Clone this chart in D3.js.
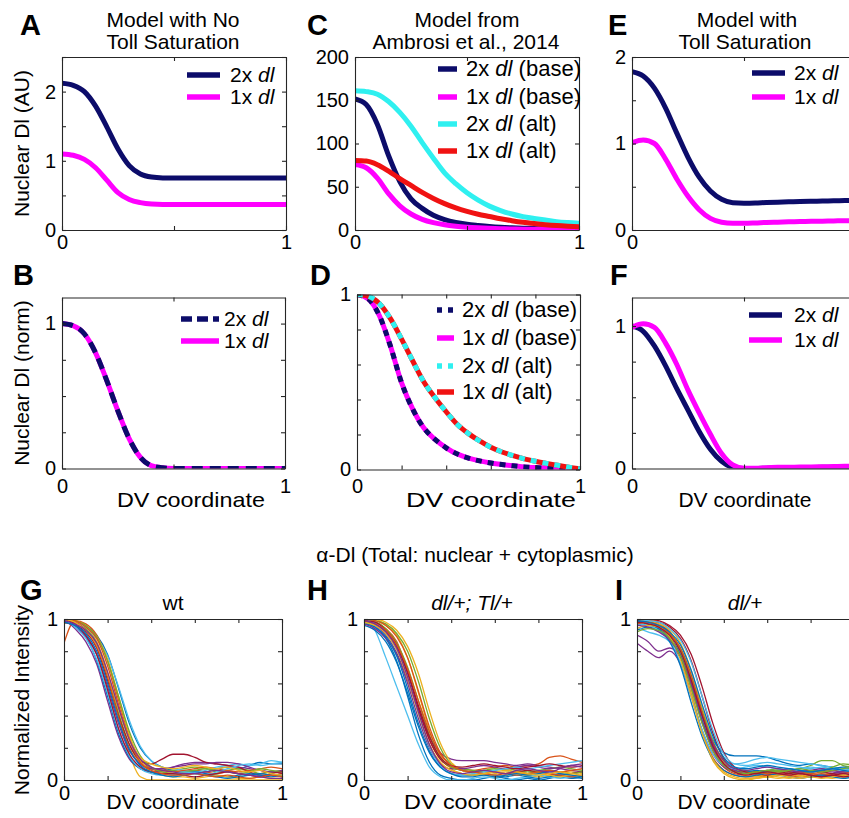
<!DOCTYPE html>
<html>
<head>
<meta charset="utf-8">
<script src="https://cdn.jsdelivr.net/npm/d3@7"></script>
<style>
  body { margin: 0; background: #fff; }
  svg { display: block; }
</style>
</head>
<body>
<svg id="fig" width="849" height="818"></svg>
<script>
// ---------- data ----------
const xs = [0, 0.05, 0.1, 0.15, 0.2, 0.25, 0.3, 0.35, 0.4, 0.45, 0.5,
            0.55, 0.6, 0.65, 0.7, 0.75, 0.8, 0.85, 0.9, 0.95, 1];

// A: model with no Toll saturation (AU)
const noSat2x = [2.12, 2.09, 2.00, 1.79, 1.49, 1.17, 0.93, 0.81, 0.765, 0.752, 0.75,
                 0.75, 0.75, 0.75, 0.75, 0.75, 0.75, 0.75, 0.75, 0.75, 0.75];
const noSat1x = [1.10, 1.08, 1.02, 0.90, 0.72, 0.54, 0.44, 0.395, 0.375, 0.37, 0.37,
                 0.37, 0.37, 0.37, 0.37, 0.37, 0.37, 0.37, 0.37, 0.37, 0.37];
// B: same model, normalized
const noSatNorm2x = [1, 0.985, 0.93, 0.80, 0.61, 0.40, 0.21, 0.08, 0.02, 0.005, 0,
                     0, 0, 0, 0, 0, 0, 0, 0, 0, 0];
const noSatNorm1x = [1, 0.985, 0.93, 0.80, 0.61, 0.40, 0.21, 0.08, 0.02, 0.005, 0,
                     0, 0, 0, 0, 0, 0, 0, 0, 0, 0];

// C: model from Ambrosi et al., 2014
const ambBase2x = [151.5, 145, 122, 86, 56, 36, 25, 17, 12, 8.7, 6.6,
                   5.2, 4, 3.1, 2.5, 2.1, 1.7, 1.4, 1.2, 1, 0.8];
const ambBase1x = [75.7, 72, 60, 42, 28, 18.5, 12.3, 8.5, 6, 4.4, 3.3,
                   2.5, 1.9, 1.5, 1.2, 1, 0.8, 0.7, 0.6, 0.5, 0.4];
const ambAlt2x = [161, 160, 157, 148.5, 136, 120, 101, 83, 66, 53.5, 43,
                  34.5, 27.6, 22.5, 18.5, 15.5, 13.4, 11.5, 9.7, 8.6, 7.8];
const ambAlt1x = [80.4, 79.7, 75.5, 68, 59.5, 51.5, 43.5, 36.5, 30.5, 25.5, 21.5,
                  18.2, 15.6, 13, 10.8, 8.9, 7.4, 6.1, 5.1, 4.4, 3.9];
// D: Ambrosi model, normalized
const ambNormBase2x = [1, 0.975, 0.88, 0.705, 0.495, 0.345, 0.237, 0.172, 0.124, 0.088, 0.065,
                       0.049, 0.037, 0.028, 0.021, 0.015, 0.011, 0.008, 0.006, 0.003, 0.001];
const ambNormBase1x = [1, 0.975, 0.88, 0.705, 0.495, 0.345, 0.237, 0.172, 0.124, 0.088, 0.065,
                       0.049, 0.037, 0.028, 0.021, 0.015, 0.011, 0.008, 0.006, 0.003, 0.001];
const ambNormAlt2x = [1, 0.99, 0.949, 0.862, 0.745, 0.62, 0.50, 0.41, 0.33, 0.257, 0.205,
                      0.163, 0.127, 0.1, 0.079, 0.061, 0.047, 0.035, 0.024, 0.013, 0.004];
const ambNormAlt1x = [1, 0.99, 0.949, 0.862, 0.745, 0.62, 0.50, 0.41, 0.33, 0.257, 0.205,
                      0.163, 0.127, 0.1, 0.079, 0.061, 0.047, 0.035, 0.024, 0.013, 0.004];

// E: model with Toll saturation (AU)
const sat2x = [1.83, 1.78, 1.64, 1.41, 1.12, 0.84, 0.61, 0.45, 0.355, 0.315, 0.31,
               0.312, 0.318, 0.322, 0.326, 0.33, 0.332, 0.335, 0.337, 0.34, 0.342];
const sat1x = [1.01, 1.04, 1.00, 0.82, 0.59, 0.39, 0.235, 0.135, 0.09, 0.078, 0.078,
               0.082, 0.088, 0.091, 0.094, 0.097, 0.1, 0.102, 0.105, 0.107, 0.109];
// F: Toll saturation model, normalized
const satNorm2x = [1, 0.963, 0.86, 0.72, 0.56, 0.41, 0.26, 0.135, 0.05, 0.008, 0,
                   0, 0.002, 0.004, 0.005, 0.006, 0.007, 0.008, 0.009, 0.011, 0.012];
const satNorm1x = [0.99, 1.015, 0.99, 0.88, 0.73, 0.55, 0.39, 0.24, 0.105, 0.025, 0.002,
                   0.002, 0.006, 0.008, 0.009, 0.01, 0.011, 0.012, 0.014, 0.015, 0.016];

// G-I: measured total Dl profiles, one row per embryo
const wtProfiles = [
  [1.00,0.99,0.96,0.90,0.78,0.57,0.35,0.20,0.12,0.08,0.06,0.05,0.06,0.05,0.07,0.08,0.07,0.09,0.11,0.10,0.10],
  [0.85,0.99,0.97,0.90,0.74,0.50,0.27,0.13,0.07,0.05,0.04,0.05,0.06,0.05,0.04,0.05,0.04,0.03,0.04,0.05,0.04],
  [0.97,0.99,0.95,0.86,0.67,0.40,0.16,0.02,0.00,0.00,0.00,0.00,0.00,0.00,0.00,0.00,0.00,0.00,0.00,0.00,0.00],
  [1.00,0.94,0.86,0.72,0.49,0.27,0.13,0.07,0.05,0.06,0.08,0.10,0.11,0.11,0.10,0.09,0.08,0.07,0.06,0.05,0.05],
  [1.00,0.98,0.94,0.85,0.66,0.42,0.22,0.11,0.07,0.06,0.06,0.07,0.08,0.07,0.05,0.06,0.07,0.06,0.04,0.05,0.06],
  [0.99,0.98,0.95,0.88,0.77,0.58,0.37,0.21,0.12,0.08,0.07,0.06,0.05,0.06,0.08,0.09,0.10,0.09,0.10,0.12,0.11],
  [0.98,0.96,0.92,0.82,0.62,0.40,0.22,0.12,0.10,0.13,0.16,0.16,0.14,0.11,0.10,0.09,0.08,0.05,0.03,0.03,0.04],
  [1.00,0.96,0.89,0.74,0.52,0.29,0.14,0.07,0.05,0.04,0.03,0.04,0.05,0.04,0.03,0.02,0.03,0.04,0.03,0.02,0.03],
  [0.99,0.98,0.93,0.83,0.64,0.39,0.20,0.10,0.07,0.06,0.05,0.06,0.07,0.08,0.07,0.06,0.05,0.06,0.07,0.08,0.07],
  [1.00,0.99,0.96,0.89,0.75,0.52,0.28,0.12,0.05,0.03,0.02,0.02,0.01,0.02,0.03,0.02,0.01,0.01,0.02,0.01,0.01],
  [0.99,0.95,0.89,0.78,0.58,0.35,0.18,0.10,0.07,0.07,0.08,0.09,0.10,0.10,0.11,0.11,0.10,0.08,0.06,0.05,0.06],
  [1.00,0.99,0.96,0.89,0.74,0.52,0.30,0.15,0.08,0.05,0.04,0.05,0.06,0.07,0.06,0.05,0.04,0.05,0.07,0.06,0.05],
  [1.00,0.95,0.88,0.75,0.54,0.31,0.15,0.07,0.04,0.03,0.04,0.05,0.04,0.03,0.05,0.07,0.09,0.10,0.09,0.10,0.11],
  [1.00,0.97,0.90,0.78,0.56,0.32,0.16,0.08,0.05,0.04,0.04,0.03,0.02,0.03,0.04,0.05,0.04,0.03,0.02,0.04,0.05],
  [0.98,0.96,0.91,0.80,0.60,0.37,0.19,0.09,0.05,0.03,0.02,0.03,0.04,0.03,0.02,0.01,0.02,0.03,0.04,0.03,0.02],
  [1.00,0.99,0.95,0.88,0.71,0.47,0.25,0.11,0.06,0.04,0.03,0.03,0.04,0.03,0.02,0.03,0.02,0.01,0.02,0.03,0.02],
  [1.00,0.98,0.93,0.84,0.66,0.44,0.25,0.14,0.10,0.08,0.07,0.08,0.09,0.08,0.07,0.08,0.06,0.05,0.06,0.04,0.03],
  [0.99,0.97,0.93,0.85,0.67,0.45,0.25,0.13,0.08,0.06,0.05,0.04,0.04,0.05,0.06,0.05,0.04,0.03,0.02,0.01,0.01]
];
const dlTlProfiles = [
  [0.97,0.95,0.88,0.74,0.52,0.28,0.11,0.03,0.01,0.00,0.00,0.01,0.02,0.01,0.00,0.01,0.00,0.01,0.02,0.01,0.02],
  [1.00,0.98,0.94,0.86,0.68,0.45,0.25,0.13,0.08,0.07,0.06,0.07,0.08,0.09,0.08,0.09,0.10,0.14,0.15,0.13,0.11],
  [1.00,1.00,0.96,0.90,0.76,0.54,0.31,0.15,0.07,0.04,0.03,0.03,0.02,0.03,0.04,0.03,0.02,0.03,0.04,0.05,0.04],
  [0.98,0.96,0.90,0.79,0.62,0.43,0.27,0.17,0.13,0.12,0.12,0.12,0.11,0.10,0.09,0.10,0.09,0.08,0.07,0.06,0.05],
  [1.00,0.99,0.97,0.91,0.80,0.61,0.38,0.20,0.10,0.07,0.06,0.05,0.06,0.07,0.06,0.05,0.06,0.07,0.08,0.07,0.06],
  [1.00,0.93,0.76,0.58,0.40,0.22,0.08,0.02,0.00,0.00,0.01,0.02,0.01,0.00,0.01,0.02,0.03,0.02,0.01,0.02,0.03],
  [0.99,0.97,0.92,0.83,0.66,0.44,0.25,0.13,0.08,0.06,0.05,0.06,0.05,0.04,0.05,0.06,0.05,0.04,0.03,0.04,0.05],
  [0.96,0.93,0.86,0.73,0.54,0.33,0.17,0.08,0.04,0.03,0.03,0.04,0.03,0.02,0.03,0.02,0.01,0.02,0.03,0.02,0.01],
  [1.00,0.99,0.96,0.89,0.76,0.55,0.33,0.17,0.09,0.06,0.05,0.04,0.05,0.04,0.03,0.04,0.05,0.04,0.03,0.02,0.03],
  [1.00,1.00,0.98,0.93,0.83,0.66,0.43,0.23,0.11,0.06,0.04,0.03,0.04,0.05,0.04,0.03,0.04,0.03,0.02,0.03,0.02],
  [0.97,0.94,0.88,0.78,0.60,0.38,0.20,0.10,0.07,0.07,0.08,0.09,0.08,0.07,0.08,0.09,0.08,0.07,0.08,0.09,0.10],
  [0.98,0.98,0.94,0.85,0.70,0.49,0.28,0.14,0.08,0.06,0.05,0.06,0.07,0.06,0.05,0.04,0.05,0.06,0.05,0.04,0.05],
  [1.00,0.97,0.91,0.81,0.64,0.41,0.21,0.09,0.04,0.03,0.04,0.05,0.06,0.07,0.08,0.07,0.08,0.09,0.10,0.11,0.12],
  [0.99,0.98,0.93,0.84,0.67,0.46,0.27,0.14,0.09,0.08,0.09,0.10,0.09,0.08,0.07,0.08,0.09,0.10,0.09,0.08,0.09],
  [0.98,0.95,0.89,0.77,0.57,0.35,0.18,0.08,0.04,0.02,0.02,0.03,0.02,0.03,0.04,0.03,0.04,0.05,0.04,0.03,0.02],
  [0.99,0.97,0.93,0.84,0.69,0.49,0.30,0.16,0.09,0.06,0.05,0.04,0.03,0.04,0.05,0.04,0.05,0.06,0.05,0.06,0.07],
  [0.98,0.96,0.91,0.81,0.63,0.41,0.22,0.11,0.06,0.04,0.03,0.04,0.05,0.06,0.05,0.04,0.03,0.04,0.05,0.04,0.03],
  [0.99,0.97,0.92,0.82,0.64,0.42,0.22,0.10,0.05,0.04,0.05,0.06,0.05,0.04,0.06,0.07,0.06,0.05,0.07,0.09,0.08]
];
const dlProfiles = [
  [0.93,0.95,0.93,0.88,0.78,0.60,0.40,0.25,0.17,0.15,0.15,0.15,0.14,0.12,0.10,0.09,0.10,0.09,0.08,0.07,0.07],
  [0.98,0.99,0.97,0.92,0.81,0.61,0.37,0.18,0.08,0.04,0.03,0.03,0.02,0.03,0.04,0.03,0.02,0.03,0.04,0.05,0.04],
  [1.00,1.00,0.98,0.93,0.80,0.56,0.30,0.12,0.04,0.01,0.00,0.01,0.02,0.01,0.02,0.03,0.02,0.03,0.04,0.03,0.02],
  [0.85,0.80,0.76,0.80,0.72,0.52,0.31,0.16,0.08,0.05,0.04,0.05,0.04,0.03,0.04,0.05,0.04,0.03,0.04,0.05,0.04],
  [1.00,0.99,0.96,0.91,0.81,0.63,0.41,0.22,0.11,0.07,0.06,0.05,0.06,0.07,0.06,0.07,0.09,0.12,0.12,0.09,0.08],
  [0.95,0.92,0.90,0.86,0.76,0.58,0.38,0.22,0.13,0.10,0.11,0.13,0.14,0.13,0.12,0.11,0.10,0.09,0.08,0.07,0.06],
  [1.00,0.99,0.98,0.95,0.88,0.74,0.52,0.29,0.13,0.06,0.04,0.05,0.06,0.05,0.04,0.05,0.06,0.05,0.04,0.03,0.04],
  [0.97,0.96,0.94,0.89,0.78,0.59,0.37,0.20,0.10,0.06,0.05,0.06,0.05,0.06,0.07,0.06,0.05,0.06,0.07,0.08,0.07],
  [0.99,0.98,0.95,0.89,0.76,0.53,0.30,0.14,0.06,0.03,0.02,0.02,0.03,0.04,0.03,0.02,0.03,0.04,0.03,0.02,0.03],
  [1.00,0.99,0.97,0.94,0.85,0.68,0.45,0.24,0.11,0.05,0.03,0.02,0.03,0.02,0.01,0.02,0.03,0.02,0.01,0.02,0.01],
  [0.90,0.86,0.80,0.82,0.76,0.58,0.36,0.19,0.10,0.06,0.05,0.04,0.05,0.06,0.05,0.04,0.05,0.06,0.05,0.04,0.05],
  [0.98,0.97,0.95,0.91,0.82,0.65,0.43,0.24,0.12,0.07,0.05,0.04,0.05,0.06,0.05,0.04,0.05,0.06,0.08,0.10,0.09],
  [0.97,0.96,0.93,0.86,0.73,0.52,0.31,0.16,0.09,0.07,0.08,0.09,0.08,0.07,0.06,0.07,0.08,0.07,0.06,0.07,0.08],
  [1.00,1.00,0.99,0.96,0.90,0.78,0.58,0.35,0.17,0.08,0.05,0.04,0.03,0.04,0.05,0.04,0.03,0.02,0.03,0.04,0.03],
  [0.99,0.97,0.94,0.86,0.71,0.48,0.27,0.13,0.06,0.03,0.02,0.03,0.04,0.03,0.02,0.01,0.02,0.03,0.02,0.01,0.02],
  [0.97,0.98,0.96,0.91,0.82,0.65,0.42,0.22,0.10,0.05,0.04,0.05,0.04,0.05,0.06,0.05,0.04,0.05,0.06,0.05,0.04],
  [0.94,0.96,0.95,0.89,0.75,0.52,0.29,0.13,0.05,0.02,0.01,0.01,0.02,0.03,0.02,0.01,0.02,0.01,0.02,0.03,0.02],
  [0.96,0.95,0.92,0.87,0.77,0.60,0.40,0.23,0.12,0.07,0.06,0.07,0.08,0.07,0.06,0.05,0.06,0.07,0.06,0.05,0.06],
  [0.92,0.94,0.93,0.88,0.77,0.57,0.35,0.18,0.09,0.05,0.04,0.05,0.06,0.05,0.06,0.07,0.06,0.05,0.06,0.07,0.08],
  [1.00,0.99,0.98,0.94,0.87,0.73,0.52,0.31,0.16,0.10,0.09,0.10,0.11,0.10,0.09,0.08,0.07,0.08,0.07,0.06,0.05],
  [0.98,0.97,0.95,0.90,0.80,0.62,0.40,0.21,0.10,0.05,0.03,0.04,0.05,0.04,0.03,0.04,0.03,0.02,0.03,0.02,0.03],
  [0.99,0.98,0.96,0.92,0.84,0.68,0.47,0.27,0.14,0.08,0.07,0.08,0.09,0.08,0.07,0.06,0.05,0.06,0.07,0.06,0.05]
];

// tick values
const xTicksHalf = [0, 0.5, 1];
const xTicksFifth = [0, 0.2, 0.4, 0.6, 0.8, 1];
const xTickLabels = [0, 1];
const yTicksAU = [0, 0.5, 1, 1.5, 2, 2.5];
const yTicksAmb = [0, 50, 100, 150, 200];
const yTicksSat = [0, 0.5, 1, 1.5, 2];
const yTicksQuarter = [0, 0.25, 0.5, 0.75, 1];
const yTicksFifth = [0, 0.2, 0.4, 0.6, 0.8, 1];
const yTickLabels = [0, 1, 2];

// ---------- styling ----------
const FONT = '"Liberation Sans", Arial, Helvetica, sans-serif';
const NAVY = '#0c0c6a', MAGENTA = '#ff00ff', CYAN = '#2ff0f0', RED = '#f01212';
const ORDER = ['#0072BD', '#D95319', '#EDB120', '#7E2F8E', '#77AC30', '#4DBEEE', '#A2142F'];
const AXIS = '#262626';

const svg = d3.select('#fig').attr('font-family', FONT);
const defs = svg.append('defs');

function panel(o) {
  const x = d3.scaleLinear().domain([0, 1]).range([o.l, o.r]);
  const y = d3.scaleLinear().domain(o.yDomain).range([o.b, o.t]);
  const g = svg.append('g');
  const cid = 'clip-' + o.id;
  defs.append('clipPath').attr('id', cid).append('rect')
    .attr('x', o.l).attr('y', o.t).attr('width', o.r - o.l).attr('height', o.b - o.t);
  const plot = g.append('g').attr('clip-path', `url(#${cid})`);
  const ax = g.append('g');
  const fx = d => xTickLabels.includes(d) ? String(d) : '';
  const fy = d => o.yAll || yTickLabels.includes(d) ? String(d) : '';
  ax.append('g').attr('transform', `translate(0,${o.b})`)
    .call(d3.axisBottom(x).tickValues(o.xTicks).tickFormat(fx)
      .tickSizeInner(-4).tickSizeOuter(0).tickPadding(o.xPad));
  ax.append('g').attr('transform', `translate(0,${o.t})`)
    .call(d3.axisTop(x).tickValues(o.xTicks).tickFormat('')
      .tickSizeInner(-4).tickSizeOuter(0));
  ax.append('g').attr('transform', `translate(${o.l},0)`)
    .call(d3.axisLeft(y).tickValues(o.yTicks).tickFormat(fy)
      .tickSizeInner(-4).tickSizeOuter(0).tickPadding(6));
  ax.append('g').attr('transform', `translate(${o.r},0)`)
    .call(d3.axisRight(y).tickValues(o.yTicks).tickFormat('')
      .tickSizeInner(-4).tickSizeOuter(0));
  ax.selectAll('g').attr('font-family', FONT).attr('font-size', 20);
  ax.selectAll('.domain, .tick line').attr('stroke', AXIS).attr('stroke-width', 1.1);
  ax.selectAll('.tick text').attr('fill', '#000');
  return { x, y, plot, ax };
}

function curve(p, vals, color, width, dash) {
  const line = d3.line().x((d, i) => p.x(xs[i])).y(d => p.y(d)).curve(d3.curveMonotoneX);
  const path = p.plot.append('path').datum(vals)
    .attr('d', line).attr('fill', 'none')
    .attr('stroke', color).attr('stroke-width', width);
  if (dash) path.attr('stroke-dasharray', dash);
  return path;
}

function legend(p, items, x1, x2, tx, ys, size) {
  items.forEach((it, i) => {
    const ln = p.ax.append('line').attr('x1', x1).attr('x2', x2)
      .attr('y1', ys[i]).attr('y2', ys[i])
      .attr('stroke', it.color).attr('stroke-width', 5.5);
    if (it.dash) ln.attr('stroke-dasharray', it.dash);
    const t = p.ax.append('text').attr('x', tx).attr('y', ys[i] + size * 0.34)
      .attr('font-size', size).attr('fill', '#000');
    t.append('tspan').text(it.pre);
    t.append('tspan').attr('font-style', 'italic').text('dl');
    if (it.post) t.append('tspan').text(it.post);
  });
}

function text(x, y, s, opts = {}) {
  const t = svg.append('text').attr('x', x).attr('y', y)
    .attr('font-size', opts.size || 21).attr('fill', '#000')
    .attr('text-anchor', opts.anchor || 'middle').text(s);
  if (opts.bold) t.attr('font-weight', 'bold');
  if (opts.italic) t.attr('font-style', 'italic');
  if (opts.rotate) t.attr('transform', `rotate(-90,${x},${y})`);
  if (opts.span) t.attr('textLength', opts.span).attr('lengthAdjust', 'spacingAndGlyphs');
  return t;
}

// ---------- row 1: absolute levels ----------
const pA = panel({ id: 'A', l: 62, r: 286, t: 57, b: 230, yDomain: [0, 2.5],
  xTicks: xTicksHalf, yTicks: yTicksAU, xPad: 5 });
curve(pA, noSat2x, NAVY, 5);
curve(pA, noSat1x, MAGENTA, 5);
legend(pA, [{ color: NAVY, pre: '2x ' }, { color: MAGENTA, pre: '1x ' }], 187, 220, 230, [75, 97], 21);

const pC = panel({ id: 'C', l: 355, r: 579, t: 57, b: 230, yDomain: [0, 200],
  xTicks: xTicksHalf, yTicks: yTicksAmb, xPad: 5, yAll: true });
curve(pC, ambBase2x, NAVY, 5);
curve(pC, ambBase1x, MAGENTA, 5);
curve(pC, ambAlt2x, CYAN, 5);
curve(pC, ambAlt1x, RED, 5);
legend(pC, [
  { color: NAVY, pre: '2x ', post: ' (base)' },
  { color: MAGENTA, pre: '1x ', post: ' (base)' },
  { color: CYAN, pre: '2x ', post: ' (alt)' },
  { color: RED, pre: '1x ', post: ' (alt)' }
], 438, 457, 466, [69, 97, 124, 151], 22);

const pE = panel({ id: 'E', l: 632, r: 856, t: 57, b: 230, yDomain: [0, 2],
  xTicks: xTicksHalf, yTicks: yTicksSat, xPad: 5 });
curve(pE, sat2x, NAVY, 5);
curve(pE, sat1x, MAGENTA, 5);
legend(pE, [{ color: NAVY, pre: '2x ' }, { color: MAGENTA, pre: '1x ' }], 752, 785, 794, [73, 97], 21);

// ---------- row 2: normalized ----------
const pB = panel({ id: 'B', l: 62, r: 285, t: 297.5, b: 468.5, yDomain: [0, 1.18],
  xTicks: xTicksHalf, yTicks: yTicksQuarter, xPad: 10 });
curve(pB, noSatNorm1x, MAGENTA, 5);
curve(pB, noSatNorm2x, NAVY, 5, '11,7');
legend(pB, [{ color: NAVY, pre: '2x ', dash: '11,5' }, { color: MAGENTA, pre: '1x ' }], 181, 219, 224, [319, 341], 21);

const pD = panel({ id: 'D', l: 357, r: 580, t: 294.5, b: 469.5, yDomain: [0, 1],
  xTicks: xTicksFifth, yTicks: yTicksFifth, xPad: 9 });
curve(pD, ambNormBase1x, MAGENTA, 5);
curve(pD, ambNormBase2x, NAVY, 5, '6,6');
curve(pD, ambNormAlt1x, RED, 5);
curve(pD, ambNormAlt2x, CYAN, 5, '6,6');
legend(pD, [
  { color: NAVY, pre: '2x ', post: ' (base)', dash: '5,6' },
  { color: MAGENTA, pre: '1x ', post: ' (base)' },
  { color: CYAN, pre: '2x ', post: ' (alt)', dash: '5,6' },
  { color: RED, pre: '1x ', post: ' (alt)' }
], 437, 454, 462, [310, 338, 366, 392], 22);

const pF = panel({ id: 'F', l: 632, r: 856, t: 297.5, b: 468.5, yDomain: [0, 1.2],
  xTicks: xTicksHalf, yTicks: yTicksQuarter, xPad: 10 });
curve(pF, satNorm2x, NAVY, 5);
curve(pF, satNorm1x, MAGENTA, 5);
legend(pF, [{ color: NAVY, pre: '2x ' }, { color: MAGENTA, pre: '1x ' }], 749, 782, 794, [315, 340], 21);

// ---------- row 3: measured profiles ----------
function profiles(p, rows) {
  rows.forEach((r, i) => curve(p, r, ORDER[i % ORDER.length], 1.3));
}
const pG = panel({ id: 'G', l: 64, r: 282, t: 619, b: 780, yDomain: [0, 1],
  xTicks: xTicksFifth, yTicks: yTicksFifth, xPad: 6 });
profiles(pG, wtProfiles);
const pH = panel({ id: 'H', l: 364, r: 582, t: 619, b: 780, yDomain: [0, 1],
  xTicks: xTicksFifth, yTicks: yTicksFifth, xPad: 6 });
profiles(pH, dlTlProfiles);
const pI = panel({ id: 'I', l: 637, r: 854, t: 619, b: 780, yDomain: [0, 1],
  xTicks: xTicksFifth, yTicks: yTicksFifth, xPad: 6 });
profiles(pI, dlProfiles);

// ---------- titles and labels ----------
text(173, 27, 'Model with No');
text(173, 49, 'Toll Saturation');
text(467, 27, 'Model from');
text(466, 49, 'Ambrosi et al., 2014');
text(747, 27, 'Model with');
text(745, 49, 'Toll Saturation');

text(29, 143.5, 'Nuclear Dl (AU)', { rotate: true });
text(29, 383, 'Nuclear Dl (norm)', { rotate: true });
text(29, 700, 'Normalized Intensity', { rotate: true });

text(191, 507, 'DV coordinate', { span: 148 });
text(491, 507, 'DV coordinate', { span: 170 });
text(745, 507, 'DV coordinate');
text(173, 809, 'DV coordinate');
text(478, 809, 'DV coordinate', { span: 148 });
text(744, 809, 'DV coordinate');

text(475, 562, 'α-Dl (Total: nuclear + cytoplasmic)');
text(173, 610, 'wt');
text(472, 610, 'dl/+; Tl/+', { italic: true });
text(745, 610, 'dl/+', { italic: true });

[['A', 20, 35], ['C', 307, 35], ['E', 608, 35],
 ['B', 13, 285], ['D', 310, 285], ['F', 610, 285],
 ['G', 20, 600], ['H', 307, 600], ['I', 615, 600]]
  .forEach(([s, x, y]) => text(x, y, s, { size: 29, bold: true, anchor: 'start' }));
</script>
</body>
</html>
